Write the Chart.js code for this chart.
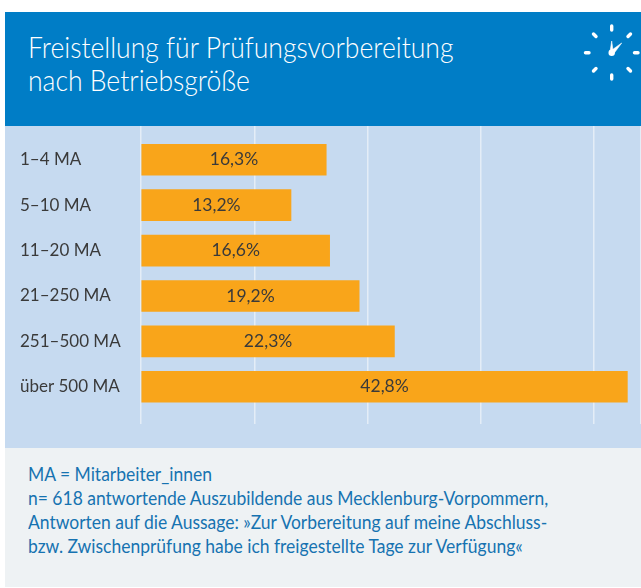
<!DOCTYPE html>
<html lang="de">
<head>
<meta charset="utf-8">
<title>Freistellung für Prüfungsvorbereitung</title>
<script src="https://cdn.jsdelivr.net/npm/chart.js@4/dist/chart.umd.min.js"></script>
<style>
    html, body { margin: 0; padding: 0; background: #fff; }
    body { position: relative; width: 641px; height: 588px; overflow: hidden; font-family: Lato, sans-serif; }
    .head { position: absolute; left: 5px; top: 12px; width: 636px; height: 114px; background: #007dc6; }
    .title { position: absolute; left: 23px; top: 18px; color: #fff; font-size: 29.5px; line-height: 33px; font-weight: 300; white-space: nowrap; transform-origin: 0 0; transform: scaleX(0.9); }
    .clock { position: absolute; left: 570px; top: 10px; }
    .plot { position: absolute; left: 5px; top: 126px; width: 636px; height: 322px; background: #c6daf0; }
    .wrap { position: absolute; left: 0; top: 0; width: 636px; height: 298px; }
    .note { position: absolute; left: 5px; top: 448px; width: 636px; height: 139px; background: #eef2f4; }
    .note p { position: absolute; left: 23px; top: 14px; margin: 0; color: #1673b1; font-size: 18.5px; line-height: 24px; white-space: nowrap; transform-origin: 0 0; transform: scaleX(0.945); }
</style>
</head>
<body>
<div class="head">
    <div class="title">Freistellung für Prüfungsvorbereitung<br>nach Betriebsgröße</div>
    <svg class="clock" width="66" height="66" viewBox="575 22 66 66">
        <g stroke="#fff" stroke-width="3.4" stroke-linecap="round">
            <line x1="611.7" y1="26" x2="611.7" y2="30"/>
            <line x1="611.7" y1="75" x2="611.7" y2="79"/>
            <line x1="585.5" y1="52.7" x2="589" y2="52.7"/>
            <line x1="634.5" y1="52.7" x2="638" y2="52.7"/>
            <line x1="593.5" y1="34" x2="596" y2="36.5"/>
            <line x1="630.5" y1="34" x2="628" y2="36.5"/>
            <line x1="593.5" y1="71" x2="596" y2="68.5"/>
            <line x1="630.5" y1="71" x2="628" y2="68.5"/>
        </g>
        <circle cx="611.7" cy="52.7" r="3.2" fill="#fff"/>
        <path d="M610 52 L611.7 41 L613.2 52 Z M610.5 51 L621.7 43 L613.5 54 Z" fill="#fff" stroke="#fff" stroke-width="0.6"/>
    </svg>
</div>
<div class="plot">
    <div class="wrap"><canvas id="chart"></canvas></div>
</div>
<div class="note">
    <p>MA = Mitarbeiter_innen<br>n= 618 antwortende Auszubildende aus Mecklenburg-Vorpommern,<br>Antworten auf die Aussage: »Zur Vorbereitung auf meine Abschluss-<br>bzw. Zwischenprüfung habe ich freigestellte Tage zur Verfügung«</p>
</div>
<script>
// Daten
const categories = ['1–4 MA', '5–10 MA', '11–20 MA', '21–250 MA', '251–500 MA', 'über 500 MA'];
const values = [16.3, 13.2, 16.6, 19.2, 22.3, 42.8];
const positions = [0, 1, 2, 3, 4, 5];

const textColor = '#3a3a3a';
const barColor = '#f9a51a';
const gridColor = '#e4edf7';
const labelFont = '17.5px Lato, sans-serif';

// Werte mittig in die Balken schreiben
const barLabels = {
    id: 'barLabels',
    afterDatasetsDraw(chart) {
        const ctx = chart.ctx;
        const bars = chart.getDatasetMeta(0).data;
        ctx.save();
        ctx.font = labelFont;
        ctx.fillStyle = textColor;
        ctx.textAlign = 'center';
        ctx.textBaseline = 'middle';
        bars.forEach((bar, i) => {
            const text = values[i].toFixed(1).replace('.', ',') + '%';
            ctx.fillText(text, (bar.base + bar.x) / 2, bar.y);
        });
        ctx.restore();
    }
};

new Chart(document.getElementById('chart'), {
    type: 'bar',
    data: {
        datasets: [{
            data: values.map((v, i) => ({ x: v, y: positions[i] })),
            backgroundColor: barColor,
            barThickness: 31,
            borderWidth: 0
        }]
    },
    plugins: [barLabels],
    options: {
        indexAxis: 'y',
        responsive: true,
        maintainAspectRatio: false,
        animation: false,
        layout: { padding: { left: 15, right: 0, top: 0, bottom: 0 } },
        plugins: {
            legend: { display: false },
            tooltip: { enabled: false }
        },
        scales: {
            x: {
                type: 'linear',
                min: 0,
                max: 44,
                border: { display: false },
                grid: { color: gridColor, lineWidth: 1.5, drawTicks: false },
                ticks: { display: false, stepSize: 9.97 }
            },
            y: {
                type: 'linear',
                reverse: true,
                offset: false,
                min: -0.744,
                max: 5.82,
                border: { display: false },
                grid: { display: false },
                afterBuildTicks(scale) {
                    scale.ticks = positions.map(p => ({ value: p }));
                },
                afterFit(scale) {
                    scale.width = 121;
                    scale.paddingTop = 0;
                    scale.paddingBottom = 0;
                },
                ticks: {
                    autoSkip: false,
                    crossAlign: 'far',
                    color: textColor,
                    font: { family: 'Lato, sans-serif', size: 17 },
                    callback: value => categories[value]
                }
            }
        }
    }
});
</script>
</body>
</html>
